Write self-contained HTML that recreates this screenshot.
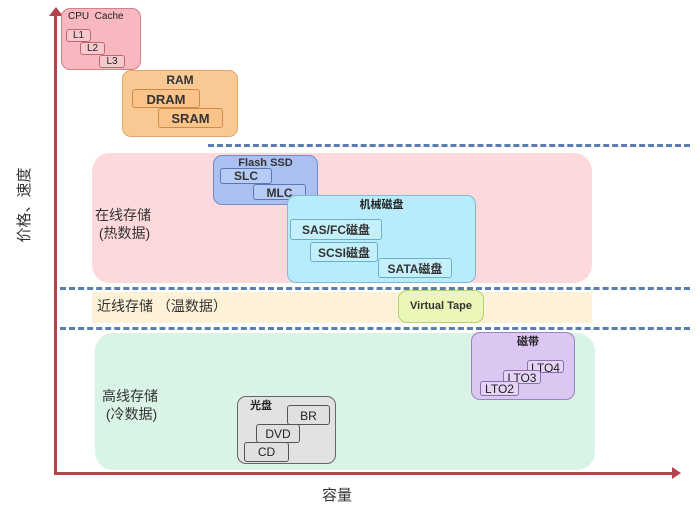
<!DOCTYPE html>
<html><head><meta charset="utf-8"><style>
body{margin:0;width:700px;height:516px;background:#fff;position:relative;overflow:hidden;font-family:"Liberation Sans","Noto Sans CJK SC",sans-serif;}
div{position:absolute;box-sizing:border-box;}
.reg{border-radius:18px;}
.box{border-radius:9px;border:1.5px solid;font-size:12px;text-align:center;color:#222;line-height:1.1;}
.in{border-radius:3px;border:1px solid;font-size:12px;line-height:1;text-align:center;color:#222;padding-top:1px;}
.dash{height:0;border-top:3px dashed #5a7cae;}
.lbl{font-size:14px;color:#333;line-height:18px;}
</style></head><body>
<div class="reg" style="left:92px;top:153px;width:500px;height:130px;background:#fdd9dc"></div>
<div style="left:92px;top:292px;width:500px;height:31px;background:#fdf1d8"></div>
<div class="reg" style="left:95px;top:333px;width:500px;height:137px;background:#d9f3e6"></div>

<div class="dash" style="left:208px;top:144px;width:482px"></div>
<div class="dash" style="left:60px;top:287px;width:630px"></div>
<div class="dash" style="left:60px;top:327px;width:630px"></div>

<div style="left:54px;top:14px;width:3px;height:461px;background:#b4444c"></div>
<div style="left:49px;top:7px;width:0;height:0;border-left:7px solid transparent;border-right:7px solid transparent;border-bottom:9px solid #b4444c"></div>
<div style="left:54px;top:472px;width:620px;height:3px;background:#b4444c"></div>
<div style="left:672px;top:467px;width:0;height:0;border-top:6px solid transparent;border-bottom:6px solid transparent;border-left:9px solid #b4444c"></div>

<div style="left:-25px;top:195px;width:100px;height:20px;font-size:15px;line-height:20px;color:#333;text-align:center;transform:rotate(-90deg)">价格、速度</div>
<div style="left:322px;top:484px;font-size:15px;color:#333">容量</div>

<div class="lbl" style="left:95px;top:206px">在线存储<br>&nbsp;(热数据)</div>
<div class="lbl" style="left:97px;top:297px">近线存储 （温数据）</div>
<div class="lbl" style="left:102px;top:387px">高线存储<br>&nbsp;(冷数据)</div>

<div class="box" style="left:61px;top:8px;width:80px;height:62px;background:#f7b8bf;border-color:#d8808a;text-align:left;padding-left:6px;padding-top:2px;font-size:10px;">CPU&nbsp; Cache</div>
<div class="in" style="left:66px;top:29px;width:25px;height:13px;background:#f7c8cd;border-color:#c06870;font-size:10px">L1</div>
<div class="in" style="left:80px;top:42px;width:25px;height:13px;background:#f7c8cd;border-color:#c06870;font-size:10px">L2</div>
<div class="in" style="left:99px;top:55px;width:26px;height:13px;background:#f7c8cd;border-color:#c06870;font-size:10px">L3</div>

<div class="box" style="left:122px;top:70px;width:116px;height:67px;background:#f9c994;border-color:#e6a565;padding-top:3px;font-weight:bold;color:#333">RAM</div>
<div class="in" style="left:132px;top:89px;width:68px;height:19px;background:#f9c38a;border-color:#d08a48;font-size:13px;padding-top:3px;font-weight:bold;color:#333">DRAM</div>
<div class="in" style="left:158px;top:108px;width:65px;height:20px;background:#f9c38a;border-color:#d08a48;font-size:13px;padding-top:3px;font-weight:bold;color:#333">SRAM</div>

<div class="box" style="left:213px;top:155px;width:105px;height:50px;background:#a9c0f0;border-color:#6e8cc8;padding-top:1px;font-size:11px;font-weight:bold;color:#333">Flash SSD</div>
<div class="in" style="left:220px;top:168px;width:52px;height:16px;background:#b7ccf4;border-color:#5a78b5;padding-top:1px;font-weight:bold;color:#333">SLC</div>
<div class="in" style="left:253px;top:184px;width:53px;height:16px;background:#b7ccf4;border-color:#5a78b5;padding-top:2px;font-weight:bold;color:#333">MLC</div>

<div class="box" style="left:287px;top:195px;width:189px;height:88px;background:#b8ecfa;border-color:#78bcd8;padding-top:3px;font-size:11px;font-weight:bold">机械磁盘</div>
<div class="in" style="left:290px;top:219px;width:92px;height:21px;background:#c4f0fb;border-color:#6cb0c8;padding-top:4px;font-weight:bold;color:#333">SAS/FC磁盘</div>
<div class="in" style="left:310px;top:242px;width:68px;height:20px;background:#c4f0fb;border-color:#6cb0c8;padding-top:4px;font-weight:bold;color:#333">SCSI磁盘</div>
<div class="in" style="left:378px;top:258px;width:74px;height:20px;background:#c4f0fb;border-color:#6cb0c8;padding-top:4px;font-weight:bold;color:#333">SATA磁盘</div>

<div class="box" style="left:398px;top:290px;width:86px;height:33px;background:#eaf7b8;border-color:#b4d070;font-size:11px;padding-top:9px;font-weight:bold;color:#333">Virtual Tape</div>

<div class="box" style="left:471px;top:332px;width:104px;height:68px;background:#dcc6f2;border-color:#9a84c0;font-size:11px;padding-top:3px;padding-left:10px;font-weight:bold">磁带</div>
<div class="in" style="left:527px;top:360px;width:37px;height:13px;background:#e6d4f6;border-color:#8a70b0">LTO4</div>
<div class="in" style="left:503px;top:370px;width:38px;height:14px;background:#e6d4f6;border-color:#8a70b0">LTO3</div>
<div class="in" style="left:480px;top:381px;width:39px;height:15px;background:#e6d4f6;border-color:#8a70b0">LTO2</div>

<div class="box" style="left:237px;top:396px;width:99px;height:68px;background:#e2e2e2;border-color:#666;text-align:left;padding-left:12px;padding-top:3px;font-size:11px;font-weight:bold">光盘</div>
<div class="in" style="left:287px;top:405px;width:43px;height:20px;background:#e0e0e0;border-color:#555;padding-top:4px">BR</div>
<div class="in" style="left:256px;top:424px;width:44px;height:19px;background:#e0e0e0;border-color:#555;padding-top:3px">DVD</div>
<div class="in" style="left:244px;top:442px;width:45px;height:20px;background:#e0e0e0;border-color:#555;padding-top:3px">CD</div>
</body></html>
